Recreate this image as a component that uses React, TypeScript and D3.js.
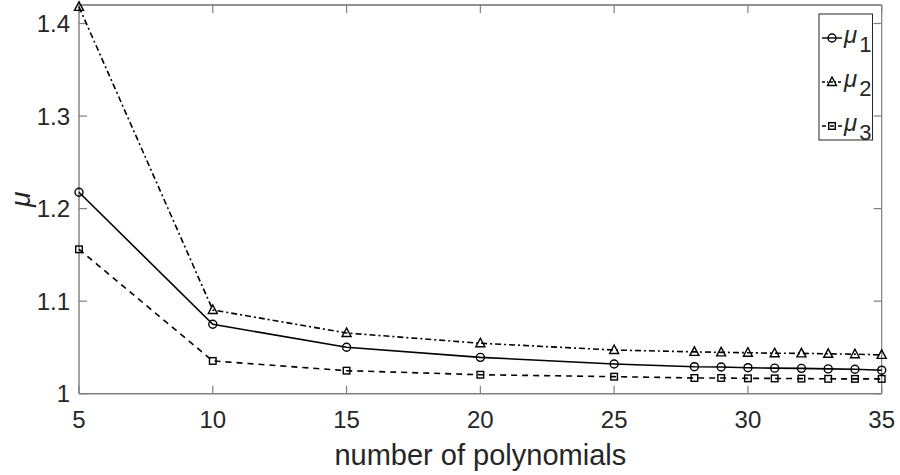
import * as d3 from "d3";

const nPoly = [5, 10, 15, 20, 25, 28, 29, 30, 31, 32, 33, 34, 35];
const mu1 = [1.2177, 1.075, 1.0502, 1.0393, 1.0321, 1.0292, 1.0289, 1.0281, 1.0276, 1.0274, 1.0268, 1.0264, 1.0254];
const mu2 = [1.418, 1.0905, 1.0656, 1.0545, 1.0472, 1.0452, 1.0447, 1.0443, 1.0437, 1.0436, 1.0431, 1.0427, 1.0419];
const mu3 = [1.156, 1.0354, 1.0249, 1.0205, 1.0184, 1.017, 1.017, 1.0166, 1.0165, 1.0163, 1.0161, 1.016, 1.016];
const xTicks = [5, 10, 15, 20, 25, 30, 35];
const yTicks = [1, 1.1, 1.2, 1.3, 1.4];

const W = 900;
const H = 475;
const left = 79;
const right = 881.7;
const top = 5;
const bottom = 393.7;
const font = "Liberation Sans, Arial, Helvetica, sans-serif";
const ink = "#262626";
const axisGray = "#7f7f7f";

type Marker = "circle" | "triangle" | "square";

const series: { name: string; sub: string; values: number[]; dash: string | undefined; marker: Marker }[] = [
  { name: "μ", sub: "1", values: mu1, dash: undefined, marker: "circle" },
  { name: "μ", sub: "2", values: mu2, dash: "6,3,2,3", marker: "triangle" },
  { name: "μ", sub: "3", values: mu3, dash: "6,5", marker: "square" },
];

function MarkerShape({ kind, x, y }: { kind: Marker; x: number; y: number }) {
  const common = { fill: "none", stroke: "#000", strokeWidth: 1.4 };
  if (kind === "circle") return <circle cx={x} cy={y} r={4} {...common} />;
  if (kind === "triangle") {
    const pts = `${x},${y - 5} ${x - 4.5},${y + 3.5} ${x + 4.5},${y + 3.5}`;
    return <polygon points={pts} {...common} />;
  }
  return <rect x={x - 3.3} y={y - 3.3} width={6.6} height={6.6} {...common} />;
}

export default function App() {
  const x = d3.scaleLinear().domain([5, 35]).range([left, right]);
  const y = d3.scaleLinear().domain([1, 1.42]).range([bottom, top]);
  const line = d3
    .line<[number, number]>()
    .x((d) => x(d[0]))
    .y((d) => y(d[1]));

  const legX = 819;
  const legY = 14;
  const legRows = [38, 82, 126];

  return (
    <svg width={W} height={H} style={{ position: "absolute", left: 0, top: 0, background: "#fff" }}>
      <rect width={W} height={H} fill="#fff" />

      {/* frame */}
      <line x1={left} x2={right} y1={top} y2={top} stroke={ink} strokeWidth={1.2} />
      <line x1={right} x2={right} y1={top} y2={bottom} stroke={axisGray} strokeWidth={1.2} />
      <line x1={left} x2={left} y1={top} y2={bottom} stroke={axisGray} strokeWidth={1.4} />
      <line x1={left} x2={right} y1={bottom} y2={bottom} stroke={axisGray} strokeWidth={1.4} />

      {/* x ticks */}
      {xTicks.map((t) => (
        <g key={"x" + t}>
          <line x1={x(t)} x2={x(t)} y1={bottom} y2={bottom - 8} stroke={axisGray} strokeWidth={1.2} />
          <line x1={x(t)} x2={x(t)} y1={top} y2={top + 8} stroke={axisGray} strokeWidth={1.2} />
          <text x={x(t)} y={428} textAnchor="middle" fontFamily={font} fontSize={24} fill={ink}>
            {t}
          </text>
        </g>
      ))}

      {/* y ticks */}
      {yTicks.map((t) => (
        <g key={"y" + t}>
          <line x1={left} x2={left + 8} y1={y(t)} y2={y(t)} stroke={axisGray} strokeWidth={1.2} />
          <line x1={right} x2={right - 8} y1={y(t)} y2={y(t)} stroke={axisGray} strokeWidth={1.2} />
          <text x={70} y={y(t) + 8.5} textAnchor="end" fontFamily={font} fontSize={24} fill={ink}>
            {t === 1 ? "1" : t.toFixed(1)}
          </text>
        </g>
      ))}

      {/* axis labels */}
      <text x={(left + right) / 2} y={465} textAnchor="middle" fontFamily={font} fontSize={29} fill={ink}>
        number of polynomials
      </text>
      <text
        transform={`translate(30, ${(top + bottom) / 2}) rotate(-90)`}
        textAnchor="middle"
        fontFamily={font}
        fontStyle="italic"
        fontSize={28}
        fill={ink}
      >
        μ
      </text>

      {/* series */}
      {series.map((s) => {
        const pts = nPoly.map((n, i) => [n, s.values[i]] as [number, number]);
        return (
          <g key={s.sub}>
            <path d={line(pts) || ""} fill="none" stroke="#000" strokeWidth={1.6} strokeDasharray={s.dash} />
            {pts.map((p, i) => (
              <MarkerShape key={i} kind={s.marker} x={x(p[0])} y={y(p[1])} />
            ))}
          </g>
        );
      })}

      {/* legend */}
      <rect x={legX} y={legY} width={53.5} height={126} fill="#fff" stroke={ink} strokeWidth={1} />
      {series.map((s, i) => (
        <g key={"leg" + s.sub}>
          <line x1={822} x2={842} y1={legRows[i]} y2={legRows[i]} stroke="#000" strokeWidth={1.4} strokeDasharray={s.dash ? (s.marker === "square" ? "4,4" : "3,2,1,2") : undefined} />
          <MarkerShape kind={s.marker} x={832} y={legRows[i]} />
          <text x={844} y={legRows[i] + 5} fontFamily={font} fontSize={24} fill={ink}>
            <tspan fontStyle="italic">{s.name}</tspan>
            <tspan dx={2} dy={9} fontSize={22}>{s.sub}</tspan>
          </text>
        </g>
      ))}
    </svg>
  );
}
